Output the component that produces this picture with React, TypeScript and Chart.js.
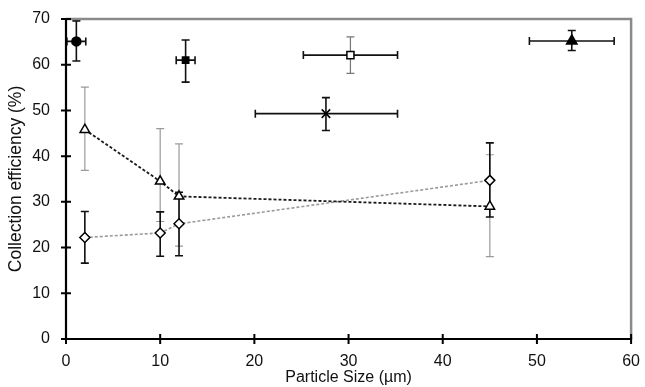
import React, { useEffect, useRef } from "react";
import { Chart, registerables } from "chart.js";

Chart.register(...registerables);

// ---- Data ----
const seriesX = [2, 10, 12, 45];
const triangleY = [45.8, 34.5, 31.2, 29.0];
const triangleLow = [36.9, 25.7, 20.3, 18.0];
const triangleHigh = [55.1, 46.0, 42.7, 40.3];
const diamondY = [22.2, 23.2, 25.2, 34.7];
const diamondLow = [16.6, 18.1, 18.2, 26.7];
const diamondHigh = [27.9, 27.8, 32.1, 42.9];

// single points: [x, y, xLow, xHigh, yLow, yHigh]
const circlePoint = [1.1, 65.1, 0.1, 2.1, 60.8, 69.6];
const filledSquarePoint = [12.7, 61.0, 11.7, 13.7, 56.2, 65.4];
const openSquarePoint = [30.2, 62.1, 25.2, 35.2, 58.1, 66.1];
const crossPoint = [27.6, 49.3, 20.1, 35.2, 45.6, 52.8];
const filledTrianglePoint = [53.7, 65.2, 49.2, 58.2, 63.1, 67.5];

const xTicks = [0, 10, 20, 30, 40, 50, 60];
const yTicks = [0, 10, 20, 30, 40, 50, 60, 70];

const FONT = "'Liberation Sans', Arial, sans-serif";

function single(p: number[], style: string, fill: string, radius: number, yColor: string) {
  return {
    type: "scatter" as const,
    data: [{ x: p[0], y: p[1] }],
    pointStyle: style,
    pointRadius: radius,
    pointBackgroundColor: fill,
    pointBorderColor: "#000",
    pointBorderWidth: 1.5,
    showLine: false,
    errorBars: {
      xLow: [p[2]], xHigh: [p[3]], yLow: [p[4]], yHigh: [p[5]],
      xColor: "#111", yColor,
    },
  };
}

const errorBarPlugin = {
  id: "errorBars",
  beforeDatasetsDraw(chart: any) {
    const ctx = chart.ctx;
    const xs = chart.scales.x;
    const ys = chart.scales.y;
    ctx.save();
    chart.data.datasets.forEach((ds: any) => {
      const eb = ds.errorBars;
      if (!eb) return;
      ds.data.forEach((pt: any, i: number) => {
        const px = xs.getPixelForValue(pt.x);
        const py = ys.getPixelForValue(pt.y);
        if (eb.yLow) {
          const y1 = ys.getPixelForValue(eb.yLow[i]);
          const y2 = ys.getPixelForValue(eb.yHigh[i]);
          ctx.strokeStyle = eb.yColor;
          ctx.lineWidth = eb.yColor === "#111" ? 1.6 : 1.2;
          ctx.beginPath();
          ctx.moveTo(px, y1); ctx.lineTo(px, y2);
          ctx.moveTo(px - 4, y1); ctx.lineTo(px + 4, y1);
          ctx.moveTo(px - 4, y2); ctx.lineTo(px + 4, y2);
          ctx.stroke();
        }
        if (eb.xLow) {
          const x1 = Math.max(xs.getPixelForValue(eb.xLow[i]), chart.chartArea.left);
          const x2 = xs.getPixelForValue(eb.xHigh[i]);
          ctx.strokeStyle = eb.xColor;
          ctx.lineWidth = 1.6;
          ctx.beginPath();
          ctx.moveTo(x1, py); ctx.lineTo(x2, py);
          ctx.moveTo(x1, py - 4); ctx.lineTo(x1, py + 4);
          ctx.moveTo(x2, py - 4); ctx.lineTo(x2, py + 4);
          ctx.stroke();
        }
      });
    });
    ctx.restore();
  },
  afterDraw(chart: any) {
    const ctx = chart.ctx;
    const a = chart.chartArea;
    const xs = chart.scales.x;
    const ys = chart.scales.y;
    ctx.save();
    // gray top/right frame
    ctx.strokeStyle = "#8a8a8a";
    ctx.lineWidth = 2.5;
    ctx.beginPath();
    ctx.moveTo(a.left, a.top); ctx.lineTo(a.right, a.top); ctx.lineTo(a.right, a.bottom);
    ctx.stroke();
    // black axes
    ctx.strokeStyle = "#000";
    ctx.lineWidth = 2.2;
    ctx.beginPath();
    ctx.moveTo(a.left, a.top); ctx.lineTo(a.left, a.bottom); ctx.lineTo(a.right + 1, a.bottom);
    ctx.stroke();
    // crossing tick marks
    ctx.lineWidth = 2;
    ctx.beginPath();
    xTicks.forEach((v) => {
      const p = xs.getPixelForValue(v);
      ctx.moveTo(p, a.bottom - 5); ctx.lineTo(p, a.bottom + 5);
    });
    yTicks.forEach((v) => {
      const p = ys.getPixelForValue(v);
      ctx.moveTo(a.left - 5, p); ctx.lineTo(a.left + 5, p);
    });
    ctx.stroke();
    ctx.restore();
  },
};

export default function App() {
  const ref = useRef<HTMLCanvasElement>(null);
  useEffect(() => {
    if (!ref.current) return;
    const chart = new Chart(ref.current, {
      type: "scatter",
      data: {
        datasets: [
          {
            type: "scatter",
            data: seriesX.map((x, i) => ({ x, y: triangleY[i] })),
            showLine: true,
            borderColor: "#1a1a1a",
            borderWidth: 1.8,
            borderDash: [3, 2],
            pointStyle: "triangle",
            pointRadius: 5.5,
            pointBackgroundColor: "#fff",
            pointBorderColor: "#000",
            pointBorderWidth: 1.5,
            errorBars: { yLow: triangleLow, yHigh: triangleHigh, yColor: "#9a9a9a" },
          } as any,
          {
            type: "scatter",
            data: seriesX.map((x, i) => ({ x, y: diamondY[i] })),
            showLine: true,
            borderColor: "#9a9a9a",
            borderWidth: 1.6,
            borderDash: [3, 2],
            pointStyle: "rectRot",
            pointRadius: 5,
            pointBackgroundColor: "#fff",
            pointBorderColor: "#000",
            pointBorderWidth: 1.5,
            errorBars: { yLow: diamondLow, yHigh: diamondHigh, yColor: "#111" },
          } as any,
          single(circlePoint, "circle", "#000", 4.5, "#111") as any,
          single(filledSquarePoint, "rect", "#000", 4.5, "#111") as any,
          single(openSquarePoint, "rect", "#fff", 5, "#777") as any,
          { ...single(crossPoint, "crossRot", "#000", 6, "#111"), pointBorderWidth: 1.6 } as any,
          single(filledTrianglePoint, "triangle", "#000", 6, "#111") as any,
        ],
      },
      options: {
        animation: false,
        responsive: false,
        maintainAspectRatio: false,
        layout: { padding: { left: 0, right: 9, top: 19, bottom: 0 } },
        plugins: { legend: { display: false }, tooltip: { enabled: false } },
        scales: {
          x: {
            type: "linear",
            min: 0,
            max: 60,
            afterFit: (s: any) => { s.height = 48; },
            afterBuildTicks: (s: any) => { s.ticks = xTicks.map((v) => ({ value: v })); },
            grid: { display: false },
            border: { display: false },
            ticks: { color: "#111", font: { family: FONT, size: 16 }, padding: 5 },
            title: {
              display: true,
              text: "Particle Size (µm)",
              color: "#111",
              font: { family: FONT, size: 16 },
              padding: { top: 0, bottom: 0 },
            },
          },
          y: {
            type: "linear",
            min: 0,
            max: 70,
            afterFit: (s: any) => { s.width = 66; },
            afterBuildTicks: (s: any) => { s.ticks = yTicks.map((v) => ({ value: v })); },
            grid: { display: false },
            border: { display: false },
            ticks: { color: "#111", font: { family: FONT, size: 16 }, padding: 8 },
            title: {
              display: true,
              text: "Collection efficiency (%)",
              color: "#111",
              font: { family: FONT, size: 17.5 },
              padding: { top: 6, bottom: 0 },
            },
          },
        },
      },
      plugins: [errorBarPlugin],
    } as any);
    return () => chart.destroy();
  }, []);
  return (
    <div style={{ position: "fixed", left: 0, top: 0, width: 645, height: 387, background: "#fff" }}>
      <canvas ref={ref} width={645} height={387} style={{ width: 645, height: 387 }} />
    </div>
  );
}
